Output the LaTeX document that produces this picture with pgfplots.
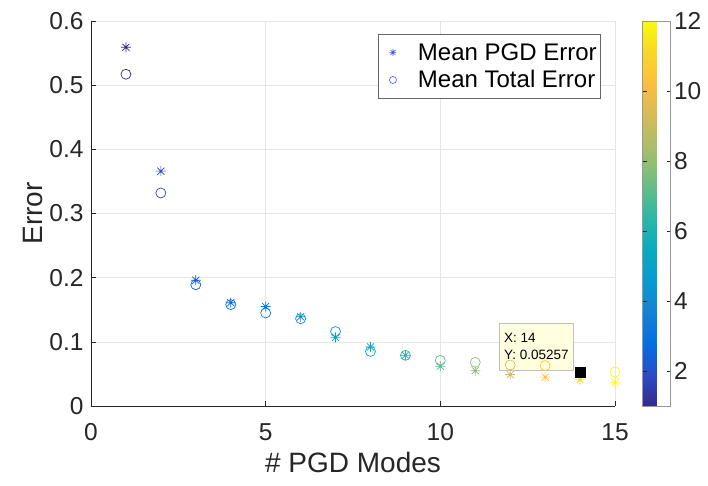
\documentclass[border=0pt]{standalone}
\usepackage{fontspec}
\setmainfont{Liberation Sans}
\usepackage{pgfplots}
\usepackage{pgfplotstable}
\pgfplotsset{compat=1.18}
\definecolor{axgray}{rgb}{0.15,0.15,0.15}
\definecolor{leg}{rgb}{0.28,0.33,0.85}
\definecolor{tipbg}{rgb}{1,1,0.88}

\pgfdeclareplotmark{mstar}{%
  \pgfpathmoveto{\pgfqpoint{-\pgfplotmarksize}{0pt}}\pgfpathlineto{\pgfqpoint{\pgfplotmarksize}{0pt}}%
  \pgfpathmoveto{\pgfqpoint{0pt}{-\pgfplotmarksize}}\pgfpathlineto{\pgfqpoint{0pt}{\pgfplotmarksize}}%
  \pgfpathmoveto{\pgfqpoint{-0.7071\pgfplotmarksize}{-0.7071\pgfplotmarksize}}\pgfpathlineto{\pgfqpoint{0.7071\pgfplotmarksize}{0.7071\pgfplotmarksize}}%
  \pgfpathmoveto{\pgfqpoint{-0.7071\pgfplotmarksize}{0.7071\pgfplotmarksize}}\pgfpathlineto{\pgfqpoint{0.7071\pgfplotmarksize}{-0.7071\pgfplotmarksize}}%
  \pgfusepathqstroke}

\pgfplotstableread{
x  pgd    tot    c
1  0.559  0.517  1
2  0.366  0.332  1.88
3  0.196  0.189  2.32
4  0.161  0.158  2.76
5  0.155  0.145  3.2
6  0.139  0.136  4.08
7  0.107  0.116  4.52
8  0.092  0.085  5.4
9  0.079  0.079  6.17
10 0.062  0.071  7.05
11 0.055  0.068  7.93
12 0.049  0.064  9.14
13 0.045  0.063  10.43
14 0.041  0.0526 11.12
15 0.037  0.053  12
}\data

\pgfplotstableread{
x  y
14 0.05257
}\tip

\begin{document}
\begin{tikzpicture}
\begin{axis}[
  name=ax, at={(0,0)}, anchor=south west,
  scale only axis, width=524pt, height=385pt,
  xmin=0, xmax=15, ymin=0, ymax=0.6,
  axis x line*=bottom, axis y line*=left,
  axis line style={draw=axgray, line width=0.6pt},
  tick align=inside, major tick length=5pt,
  tick style={draw=axgray, line width=0.6pt},
  grid=major, grid style={draw=black!10, line width=0.6pt},
  xtick={0,5,10,15}, ytick={0,0.1,0.2,0.3,0.4,0.5,0.6},
  /pgf/number format/assume math mode=true,
  yticklabel style={/pgf/number format/fixed, /pgf/number format/precision=1, xshift=-4pt},
  xticklabel style={yshift=-14pt},
  ticklabel style={font=\fontsize{24.5}{28}\selectfont, text=axgray},
  xlabel={\# PGD Modes}, ylabel={Error},
  xlabel style={yshift=-4pt},
  label style={font=\fontsize{28}{32}\selectfont, text=axgray},
  colormap={parula}{
    rgb(0)=(0.2081,0.1663,0.5292)
    rgb(5)=(0.1707,0.2919,0.7792)
    rgb(10)=(0.0165,0.4266,0.8786)
    rgb(16)=(0.0793,0.5200,0.8312)
    rgb(21)=(0.0265,0.6137,0.8135)
    rgb(26)=(0.0384,0.6743,0.7436)
    rgb(31)=(0.1801,0.7177,0.6424)
    rgb(37)=(0.4420,0.7481,0.5033)
    rgb(42)=(0.6473,0.7456,0.4188)
    rgb(47)=(0.8185,0.7327,0.3498)
    rgb(52)=(0.9739,0.7314,0.2666)
    rgb(54)=(0.9990,0.7653,0.2164)
    rgb(58)=(0.9697,0.8481,0.1475)
    rgb(63)=(0.9763,0.9831,0.0538)
  },
  point meta min=1, point meta max=12,
  colorbar,
  colorbar style={
    at={(parent axis.north east)}, anchor=north west, xshift=19pt,
    width=28pt, height=385pt, scale only axis,
    ytick={2,4,6,8,10,12},
    tick align=inside, major tick length=4pt,
    axis line style={draw=black!40},
    tick style={draw=axgray},
    /pgf/number format/assume math mode=true,
    yticklabel style={font=\fontsize{24.5}{28}\selectfont, text=axgray},
  },
  legend style={at={(0.973,0.966)}, anchor=north east, draw=black!60,
    font=\fontsize{24}{28}\selectfont, text=black, fill=white,
    inner xsep=2pt, inner ysep=7pt, row sep=5pt, cells={anchor=west}},
  legend cell align=left,
]
\addplot[scatter, only marks, mark=mstar, mark size=5pt, line width=0.7pt,
  point meta=\thisrow{c},
  scatter/use mapped color={draw=mapped color, fill=mapped color},
  legend image code/.code={\path[draw=none, fill=none] (0pt,-1pt) rectangle (36pt,1pt);\draw[leg, line width=0.6pt] plot[mark=mstar, mark size=3.5pt] coordinates {(13pt,0pt)};}]
  table[x=x, y=pgd] {\data};
\addlegendentry{Mean PGD Error}
\addplot[scatter, only marks, mark=o, mark size=5pt, line width=0.7pt,
  point meta=\thisrow{c},
  scatter/use mapped color={draw=mapped color, fill=none},
  legend image code/.code={\path[draw=none, fill=none] (0pt,-1pt) rectangle (36pt,1pt);\draw[leg, line width=0.6pt] plot[mark=o, mark size=3.5pt] coordinates {(13pt,0pt)};}]
  table[x=x, y=tot] {\data};
\addlegendentry{Mean Total Error}
\addplot[only marks, mark=square*, mark size=5pt, black, forget plot] table {\tip};
\node[anchor=north west, fill=tipbg, draw=black!25, line width=0.6pt,
  minimum width=74pt, minimum height=47pt, inner sep=4pt, align=left,
  font=\fontsize{13.5}{17}\selectfont, text=black]
  at (axis cs:11.68,0.1293) {X: 14\\Y: 0.05257};
\end{axis}
\pgfresetboundingbox
\path[use as bounding box] ([shift={(-91pt,-80pt)}]ax.south west) rectangle ++(708pt,486pt);
\end{tikzpicture}
\end{document}
